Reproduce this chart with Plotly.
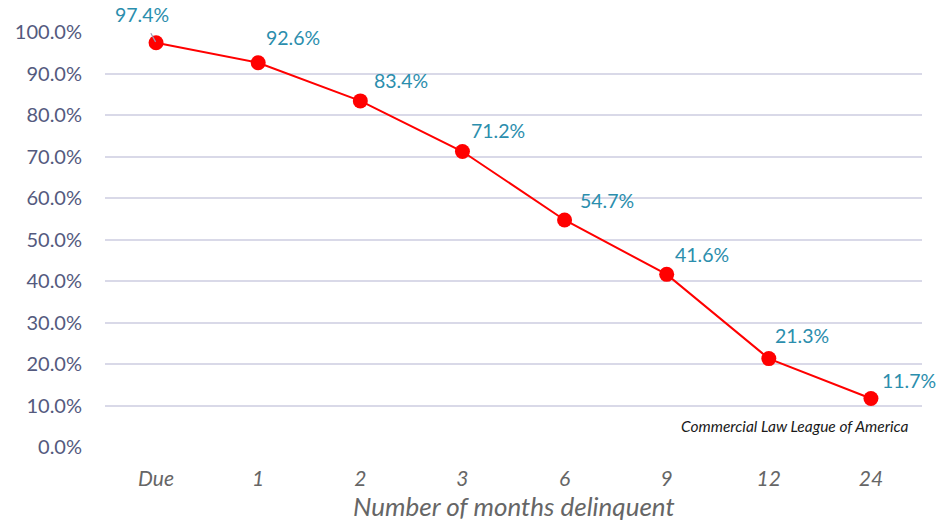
import plotly.graph_objects as go

# Share of delinquent accounts still collectable, by months past due
categories = ["Due", "1", "2", "3", "6", "9", "12", "24"]
collectable_pct = [97.4, 92.6, 83.4, 71.2, 54.7, 41.6, 21.3, 11.7]
y_ticks = [0, 10, 20, 30, 40, 50, 60, 70, 80, 90, 100]

# pixel nudges (dx, dy) of each value label from its marker
label_offsets = [(-14, 28), (35, 25), (41, 20), (36, 21), (42, 20), (35, 20), (33, 23), (38, 18)]

FONT = "Lato, Open Sans, sans-serif"
label_font = dict(family=FONT, size=19.5, color="#2B8EAD")

fig = go.Figure()
fig.add_trace(go.Scatter(
    x=categories,
    y=collectable_pct,
    mode="lines+markers",
    line=dict(color="#FF0000", width=2),
    marker=dict(color="#FF0000", size=15),
    cliponaxis=False,
    hoverinfo="skip",
))

annotations = []
# category axis positions are addressed by index
for i, (val, (dx, dy)) in enumerate(zip(collectable_pct, label_offsets)):
    annotations.append(dict(
        x=i, y=val, text=f"{val:.1f}%", showarrow=False,
        xshift=dx, yshift=dy, font=label_font,
    ))
    if i == 0:
        # short leader line from the first label down to its marker
        annotations.append(dict(
            x=i, y=val, text="", showarrow=True, arrowhead=0,
            arrowwidth=1.2, arrowcolor="#9A9AB5", ax=-6, ay=-11, standoff=1,
        ))

annotations.append(dict(
    xref="paper", yref="paper", x=0.985, y=0.05,
    xanchor="right", yanchor="middle", showarrow=False,
    text="<i>Commercial Law League of America</i>",
    font=dict(family=FONT, size=15.5, color="#1A1A1A"),
))

# x-axis title
annotations.append(dict(
    xref="paper", yref="paper", x=0.5, y=-0.142,
    xanchor="center", yanchor="middle", showarrow=False,
    text="<i>Number of months delinquent</i>",
    font=dict(family=FONT, size=26, color="#666666"),
))

fig.update_layout(
    width=952, height=522,
    margin=dict(l=105, r=30, t=32, b=75, autoexpand=False),
    paper_bgcolor="white", plot_bgcolor="white",
    showlegend=False,
    annotations=annotations,
    xaxis=dict(
        type="category",
        range=[-0.5, 7.5],
        automargin=False,
        showgrid=False, zeroline=False, showline=False,
        ticks="",
        ticklabelstandoff=17,
        tickfont=dict(family=FONT, size=21, color="#666666", style="italic"),
    ),
    yaxis=dict(
        range=[0, 100],
        automargin=False,
        tickvals=y_ticks,
        ticktext=[f"{v:.1f}%" for v in y_ticks],
        showgrid=True, gridcolor="#D9D9E8", gridwidth=1.5,
        zeroline=False, showline=False, ticks="",
        ticklabelstandoff=22,
        tickfont=dict(family=FONT, size=20, color="#545A7E"),
    ),
)

fig.write_html("out.html")
